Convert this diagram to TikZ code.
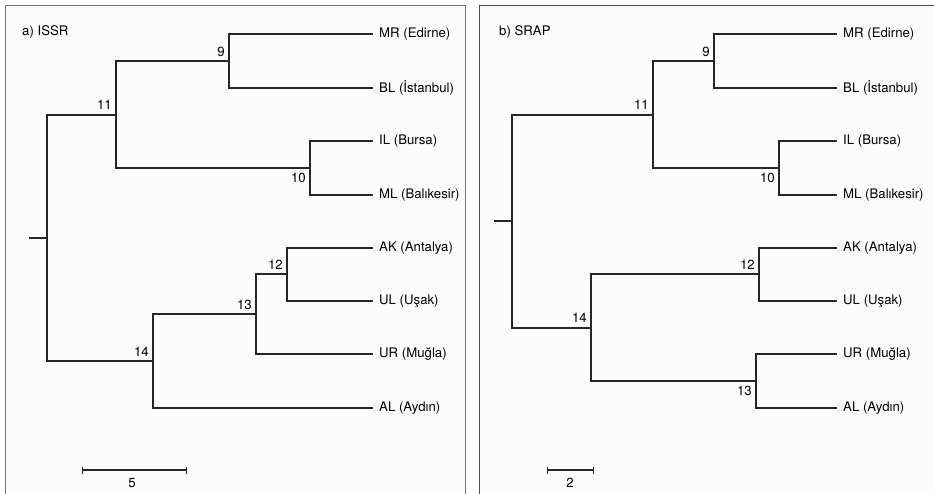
\documentclass[tikz,border=0pt]{standalone}
\usepackage{fontspec}
\setmainfont{TeX Gyre Heros}
\usetikzlibrary{arrows.meta}
\begin{document}
\begin{tikzpicture}[x=1pt,y=-1pt,
  br/.style={line width=1.2pt,draw=black!85},
  leaf/.style={anchor=west,inner xsep=6pt,inner ysep=0pt,font=\fontsize{13.2}{15}\selectfont},
  lab/.style={inner sep=0pt,font=\fontsize{13.2}{15}\selectfont},
  frame/.style={draw=black!55,line width=1pt},
  scalebar/.style={line width=1.2pt,draw=black!85,{Bar[width=7pt]}-{Bar[width=7pt]}}]
\useasboundingbox (0,0) rectangle (934,494);
\fill[white] (0,0) rectangle (934,494);
% frames
\fill[black!1] (5,6) rectangle (465,494);
\fill[black!1] (479,6) rectangle (934,494);
\draw[frame] (5,494) -- (5,6) -- (465,6) -- (465,494);
\draw[frame,draw=black!70] (479,494) -- (479,6) -- (934,6);
% ---------- panel a ----------
\node[lab,anchor=west] (ta) at (22,32) {a) ISSR};
\node[leaf] (aMR) at (373,34) {MR (Edirne)};
\node[leaf] (aBL) at (373,88) {BL (İstanbul)};
\node[leaf] (aIL) at (373,141) {IL (Bursa)};
\node[leaf] (aML) at (373,195) {ML (Balıkesir)};
\node[leaf] (aAK) at (373,248) {AK (Antalya)};
\node[leaf] (aUL) at (373,301) {UL (Uşak)};
\node[leaf] (aUR) at (373,354) {UR (Muğla)};
\node[leaf] (aAL) at (373,408) {AL (Aydın)};
\coordinate (a9) at (229,61);
\coordinate (a10) at (310,168);
\coordinate (a11) at (116,115);
\coordinate (a12) at (287,274);
\coordinate (a13) at (256,314);
\coordinate (a14) at (153,361);
\coordinate (aR) at (47,238);
\coordinate (aS) at (29,238);
\draw[br] (a9) |- (aMR.west);
\draw[br] (a9) |- (aBL.west);
\draw[br] (a10) |- (aIL.west);
\draw[br] (a10) |- (aML.west);
\draw[br] (a11) |- (a9);
\draw[br] (a11) |- (a10);
\draw[br] (a12) |- (aAK.west);
\draw[br] (a12) |- (aUL.west);
\draw[br] (a13) |- (a12);
\draw[br] (a13) |- (aUR.west);
\draw[br] (a14) |- (a13);
\draw[br] (a14) |- (aAL.west);
\draw[br] (aR) |- (a11);
\draw[br] (aR) |- (a14);
\draw[br] (aS) -- (aR);
\node[lab,anchor=south east] (la9) at (225,57) {9};
\node[lab,anchor=south east] (la11) at (112,110) {11};
\node[lab,anchor=north east] (la10) at (306,173) {10};
\node[lab,anchor=south east] (la12) at (283,270) {12};
\node[lab,anchor=south east] (la13) at (252,310) {13};
\node[lab,anchor=south east] (la14) at (149,357) {14};
\coordinate (asb1) at (82,470);
\coordinate (asb2) at (187,470);
\draw[scalebar] (asb1) -- (asb2);
\node[lab] (asl) at (132,483) {5};
% ---------- panel b ----------
\node[lab,anchor=west] (tb) at (499,32) {b) SRAP};
\node[leaf] (bMR) at (837,34) {MR (Edirne)};
\node[leaf] (bBL) at (837,88) {BL (İstanbul)};
\node[leaf] (bIL) at (837,141) {IL (Bursa)};
\node[leaf] (bML) at (837,195) {ML (Balıkesir)};
\node[leaf] (bAK) at (837,248) {AK (Antalya)};
\node[leaf] (bUL) at (837,301) {UL (Uşak)};
\node[leaf] (bUR) at (837,354) {UR (Muğla)};
\node[leaf] (bAL) at (837,408) {AL (Aydın)};
\coordinate (b9) at (714,61);
\coordinate (b10) at (779,168);
\coordinate (b11) at (653,115);
\coordinate (b12) at (759,274);
\coordinate (b13) at (756,381);
\coordinate (b14) at (591,328);
\coordinate (bR) at (512,221);
\coordinate (bS) at (494,221);
\draw[br] (b9) |- (bMR.west);
\draw[br] (b9) |- (bBL.west);
\draw[br] (b10) |- (bIL.west);
\draw[br] (b10) |- (bML.west);
\draw[br] (b11) |- (b9);
\draw[br] (b11) |- (b10);
\draw[br] (b12) |- (bAK.west);
\draw[br] (b12) |- (bUL.west);
\draw[br] (b13) |- (bUR.west);
\draw[br] (b13) |- (bAL.west);
\draw[br] (b14) |- (b12);
\draw[br] (b14) |- (b13);
\draw[br] (bR) |- (b11);
\draw[br] (bR) |- (b14);
\draw[br] (bS) -- (bR);
\node[lab,anchor=south east] (lb9) at (710,57) {9};
\node[lab,anchor=south east] (lb11) at (649,110) {11};
\node[lab,anchor=north east] (lb10) at (775,173) {10};
\node[lab,anchor=south east] (lb12) at (755,270) {12};
\node[lab,anchor=south east] (lb14) at (587,323) {14};
\node[lab,anchor=north east] (lb13) at (752,386) {13};
\coordinate (bsb1) at (547,470);
\coordinate (bsb2) at (594,470);
\draw[scalebar] (bsb1) -- (bsb2);
\node[lab] (bsl) at (570,483) {2};
\end{tikzpicture}
\end{document}
